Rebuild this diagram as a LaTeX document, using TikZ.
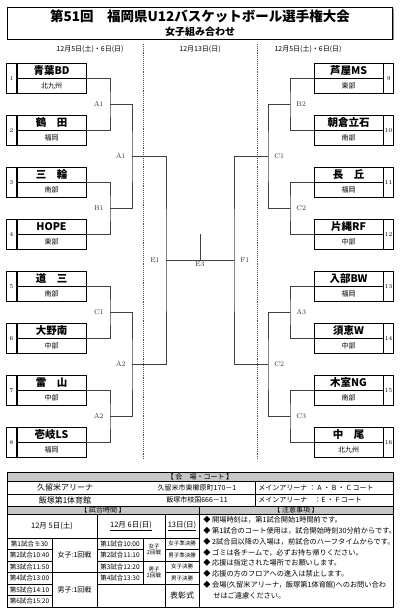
\documentclass[tikz,border=0pt]{standalone}
\usepackage{fontspec}
\newfontfamily\jp{Noto Sans CJK JP}
\usetikzlibrary{positioning}
\tikzset{
	team/.style={draw, minimum width=69pt, minimum height=15pt, inner sep=0pt, font=\jp\bfseries\fontsize{10.5}{10.5}\selectfont},
	region/.style={draw, minimum width=69pt, minimum height=15pt, inner sep=0pt, font=\jp\fontsize{7}{7}\selectfont},
	seed/.style={draw, minimum width=10pt, minimum height=30pt, inner sep=0pt, font=\fontsize{6}{6}\selectfont},
	game/.style={font=\fontsize{7}{7}\selectfont, inner sep=1pt, text=black!80},
	bracket/.style={draw=black!75, line width=0.6pt},
	cell/.style={font=\jp\fontsize{7}{7}\selectfont, inner sep=0pt},
	tiny/.style={font=\jp\fontsize{5.5}{6.5}\selectfont, inner sep=0pt, align=center},
	head/.style={draw, fill=black!22, line width=0.6pt},
}
\begin{document}
\begin{tikzpicture}[x=1pt, y=-1pt, line width=0.6pt]
	\useasboundingbox (0,0) rectangle (400,612);
	% title
	\fill [black!45] (9,9) rectangle (393.5,40.5);
	\draw [fill = white] (7,7) rectangle (392,39);
	\node [font=\jp\bfseries\fontsize{13.5}{13.5}\selectfont] (title) at (200,16) {第51回　福岡県U12バスケットボール選手権大会};
	\node [font=\jp\bfseries\fontsize{10}{10}\selectfont] (subtitle) at (200,32) {女子組み合わせ};
	% dates
	\node [cell] (dl) at (90,49) {12月5日(土)・6日(日)};
	\node [cell] (dc) at (200,49) {12月13日(日)};
	\node [cell] (dr) at (308,49) {12月5日(土)・6日(日)};
	\draw [densely dotted, line width=0.9pt, black!70] (143,44) -- (143,460);
	\draw [densely dotted, line width=0.9pt, black!70] (257,44) -- (257,460);
	% teams, left side
	\foreach \i/\nm/\rg in {1/青葉BD/北九州, 2/鶴　田/福岡, 3/三　輪/南部, 4/HOPE/東部,
		5/道　三/南部, 6/大野南/中部, 7/雷　山/中部, 8/壱岐LS/福岡} {
		\pgfmathsetmacro\t{63+52*(\i-1)}
		\node [team] (n\i) at (51.5,\t+7.5) {\nm};
		\node [region, below = 0pt of n\i] (r\i) {\rg};
		\node [seed, left = 0pt of n\i.south west] (s\i) {\i};
	}
	% teams, right side
	\foreach \i/\nm/\rg in {9/芦屋MS/東部, 10/朝倉立石/南部, 11/長　丘/福岡, 12/片縄RF/中部,
		13/入部BW/福岡, 14/須恵W/中部, 15/木室NG/南部, 16/中　尾/北九州} {
		\pgfmathsetmacro\t{63+52*(\i-9)}
		\node [team] (n\i) at (348.5,\t+7.5) {\nm};
		\node [region, below = 0pt of n\i] (r\i) {\rg};
		\node [seed, right = 0pt of n\i.south east] (s\i) {\i};
	}
	% junctions
	\foreach \k/\y in {1/104, 2/208, 3/312, 4/416} {
		\coordinate (a\k) at (110,\y);
		\coordinate (c\k) at (290,\y);
	}
	\coordinate (b1) at (132,156);
	\coordinate (b2) at (132,364);
	\coordinate (d1) at (268,156);
	\coordinate (d2) at (268,364);
	\coordinate (e1) at (166,260);
	\coordinate (f1) at (234,260);
	\coordinate (e3) at (200,234);
	\coordinate (fin) at (200,260);
	% first round
	\draw [bracket] (n1.south east) -| (a1) |- (n2.south east);
	\draw [bracket] (n3.south east) -| (a2) |- (n4.south east);
	\draw [bracket] (n5.south east) -| (a3) |- (n6.south east);
	\draw [bracket] (n7.south east) -| (a4) |- (n8.south east);
	\draw [bracket] (n9.south west) -| (c1) |- (n10.south west);
	\draw [bracket] (n11.south west) -| (c2) |- (n12.south west);
	\draw [bracket] (n13.south west) -| (c3) |- (n14.south west);
	\draw [bracket] (n15.south west) -| (c4) |- (n16.south west);
	% second round
	\draw [bracket] (a1) -| (b1) |- (a2);
	\draw [bracket] (a3) -| (b2) |- (a4);
	\draw [bracket] (c1) -| (d1) |- (c2);
	\draw [bracket] (c3) -| (d2) |- (c4);
	% semi finals and final
	\draw [bracket] (b1) -| (e1) |- (b2);
	\draw [bracket] (d1) -| (f1) |- (d2);
	\draw [bracket] (e1) -- (f1);
	\draw [bracket] (e3) -- (fin);
	% game labels
	\node [game, left = 5pt of a1] {A1};
	\node [game, left = 5pt of a2] {B1};
	\node [game, left = 5pt of a3] {C1};
	\node [game, left = 5pt of a4] {A2};
	\node [game, right = 5pt of c1] {B2};
	\node [game, right = 5pt of c2] {C2};
	\node [game, right = 5pt of c3] {A3};
	\node [game, right = 5pt of c4] {C3};
	\node [game, left = 5pt of b1] {A1};
	\node [game, left = 5pt of b2] {A2};
	\node [game, right = 5pt of d1] {C1};
	\node [game, right = 5pt of d2] {C2};
	\node [game, left = 5pt of e1] {E1};
	\node [game, right = 5pt of f1] {F1};
	\node [game, below = 0.5pt of fin] {E3};
	% venues
	\draw [head] (7,472) rectangle (393,481);
	\node [cell] at (200,476.5) {【 会　場・コート 】};
	\draw (7,481) rectangle (393,494);
	\draw (7,494) rectangle (393,506);
	\draw (255,481) -- (255,506);
	\node [cell, font=\jp\fontsize{8}{8}\selectfont] at (65,487.5) {久留米アリーナ};
	\node [cell] at (197,487.5) {久留米市東櫛原町170－1};
	\node [cell, anchor=west] at (258,487.5) {メインアリーナ ： A ・ B ・ C コート};
	\node [cell, font=\jp\fontsize{8}{8}\selectfont] at (65,500) {飯塚第1体育館};
	\node [cell] at (197,500) {飯塚市枝国666－11};
	\node [cell, anchor=west] at (258,500) {メインアリーナ　：E ・ F コート};
	% game times
	\draw [head] (7,506) rectangle (199,514);
	\draw [head] (199,506) rectangle (393,514);
	\node [cell] at (103,510) {【 試合時間 】};
	\node [cell] at (296,510) {【 注意事項 】};
	\draw (7,514) rectangle (199,607);
	\draw (7,538) -- (199,538);
	\draw (97,514) -- (97,607);
	\draw (165,514) -- (165,607);
	\draw (52,538) -- (52,607);
	\draw (143,538) -- (143,584);
	\foreach \y in {549.5,561,572.5,584,595.5} \draw (7,\y) -- (52,\y);
	\draw (52,572.5) -- (97,572.5);
	\foreach \y in {549.5,561,572.5,584} \draw (97,\y) -- (143,\y);
	\draw (143,561) -- (165,561);
	\draw (143,584) -- (165,584);
	\foreach \y in {549.5,561,572.5,584} \draw (165,\y) -- (199,\y);
	\node [cell, font=\jp\fontsize{7.5}{7.5}\selectfont] at (52,526) {12月 5日(土)};
	\node [cell, font=\jp\fontsize{7.5}{7.5}\selectfont] at (131,526) {\underline{12月 6日(日)}};
	\node [cell, font=\jp\fontsize{7.5}{7.5}\selectfont] at (182,526) {\underline{13日(日)}};
	\foreach \k/\tm in {0/第1試合 9:30, 1/第2試合10:40, 2/第3試合11:50, 3/第4試合13:00, 4/第5試合14:10, 5/第6試合15:20}
		\node [cell, font=\jp\fontsize{6.5}{6.5}\selectfont] at (29.5,543.75+11.5*\k) {\tm};
	\foreach \k/\tm in {0/第1試合10:00, 1/第2試合11:10, 2/第3試合12:20, 3/第4試合13:30}
		\node [cell, font=\jp\fontsize{6.5}{6.5}\selectfont] at (120,543.75+11.5*\k) {\tm};
	\foreach \k/\tm in {0/女子準決勝, 1/男子準決勝, 2/女子決勝, 3/男子決勝}
		\node [tiny] at (182,543.75+11.5*\k) {\tm};
	\node [cell] at (74.5,555.25) {女子:1回戦};
	\node [cell] at (74.5,589.75) {男子:1回戦};
	\node [tiny] at (154,549.5) {女子\\2回戦};
	\node [tiny] at (154,572.5) {男子\\2回戦};
	\node [cell, font=\jp\fontsize{8}{8}\selectfont] at (182,595.5) {表彰式};
	% notes
	\draw (199,514) rectangle (393,607);
	\foreach \k/\tx in {0/開場時刻は，第1試合開始1時間前です。,
		1/第1試合のコート使用は，試合開始時刻30分前からです。,
		2/2試合目以降の入場は，前試合のハーフタイムからです。,
		3/ゴミは各チームで，必ずお持ち帰りください。,
		4/応援は指定された場所でお願いします。,
		5/応援の方のフロアへの進入は禁止します。,
		6/会場(久留米アリーナ，飯塚第1体育館)へのお問い合わ}
		\node [cell, anchor=west, font=\jp\fontsize{7.2}{7.2}\selectfont] at (203,520+10.8*\k) {◆ \tx};
	\node [cell, anchor=west, font=\jp\fontsize{7.2}{7.2}\selectfont] at (213,520+10.8*7) {せはご遠慮ください。};
\end{tikzpicture}
\end{document}
